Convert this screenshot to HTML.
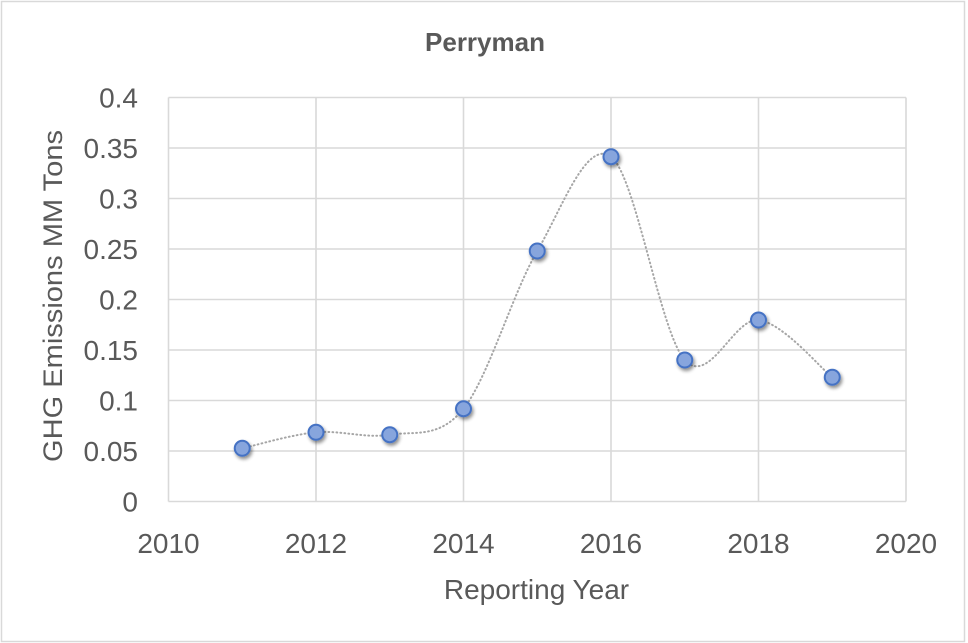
<!DOCTYPE html>
<html>
<head>
<meta charset="utf-8">
<style>
  html,body{margin:0;padding:0;background:#fff;}
  svg{display:block;}
  text{font-family:"Liberation Sans",Arial,sans-serif;fill:#595959;}
</style>
</head>
<body>
<svg width="968" height="643" viewBox="0 0 968 643" xmlns="http://www.w3.org/2000/svg">
  <defs>
    <filter id="sh" x="-50%" y="-50%" width="200%" height="200%">
      <feGaussianBlur in="SourceAlpha" stdDeviation="1.8"/>
      <feOffset dx="1.5" dy="2.5" result="b"/>
      <feComponentTransfer><feFuncA type="linear" slope="0.45"/></feComponentTransfer>
      <feMerge><feMergeNode/><feMergeNode in="SourceGraphic"/></feMerge>
    </filter>
  </defs>
  <rect x="0" y="0" width="968" height="643" fill="#fff"/>
  <rect x="1.5" y="1.5" width="963" height="640" fill="none" stroke="#D9D9D9" stroke-width="1.5"/>

  <!-- grid -->
  <g stroke="#D9D9D9" stroke-width="1.6">
    <line x1="168.5" y1="97.5" x2="906" y2="97.5"/>
    <line x1="168.5" y1="148" x2="906" y2="148"/>
    <line x1="168.5" y1="198.5" x2="906" y2="198.5"/>
    <line x1="168.5" y1="249" x2="906" y2="249"/>
    <line x1="168.5" y1="299.5" x2="906" y2="299.5"/>
    <line x1="168.5" y1="350" x2="906" y2="350"/>
    <line x1="168.5" y1="400.5" x2="906" y2="400.5"/>
    <line x1="168.5" y1="451" x2="906" y2="451"/>
    <line x1="168.5" y1="501.5" x2="906" y2="501.5"/>
    <line x1="168.5" y1="97.5" x2="168.5" y2="501.5"/>
    <line x1="316" y1="97.5" x2="316" y2="501.5"/>
    <line x1="463.5" y1="97.5" x2="463.5" y2="501.5"/>
    <line x1="611" y1="97.5" x2="611" y2="501.5"/>
    <line x1="758.5" y1="97.5" x2="758.5" y2="501.5"/>
    <line x1="906" y1="97.5" x2="906" y2="501.5"/>
  </g>

  <!-- title -->
  <text x="485" y="51" font-size="26" font-weight="bold" text-anchor="middle">Perryman</text>

  <!-- y tick labels -->
  <g font-size="28" text-anchor="end">
    <text x="138" y="107.5">0.4</text>
    <text x="138" y="158">0.35</text>
    <text x="138" y="208.5">0.3</text>
    <text x="138" y="259">0.25</text>
    <text x="138" y="309.5">0.2</text>
    <text x="138" y="360">0.15</text>
    <text x="138" y="410.5">0.1</text>
    <text x="138" y="461">0.05</text>
    <text x="138" y="511.5">0</text>
  </g>

  <!-- x tick labels -->
  <g font-size="28" text-anchor="middle">
    <text x="168.5" y="553">2010</text>
    <text x="316" y="553">2012</text>
    <text x="463.5" y="553">2014</text>
    <text x="611" y="553">2016</text>
    <text x="758.5" y="553">2018</text>
    <text x="906" y="553">2020</text>
  </g>

  <!-- axis titles -->
  <text x="536.5" y="599" font-size="28" text-anchor="middle">Reporting Year</text>
  <text transform="translate(62,296) rotate(-90)" font-size="27" text-anchor="middle" textLength="332" lengthAdjust="spacingAndGlyphs">GHG Emissions MM Tons</text>

  <!-- smoothed dotted line -->
  <path d="M242.25,448.3 C254.54,445.63 291.42,434.57 316,432.3 C340.58,430.03 365.17,438.63 389.75,434.7 C414.33,430.77 438.92,439.32 463.5,408.7 C488.08,378.08 512.67,293 537.25,251 C561.83,209 586.42,138.53 611,156.7 C635.58,174.87 660.17,332.78 684.75,360 C709.33,387.22 733.92,317.12 758.5,320 C783.08,322.88 819.96,367.75 832.25,377.3"
        fill="none" stroke="#A6A6A6" stroke-width="2" stroke-dasharray="0.8 3.2" stroke-linecap="round"/>

  <!-- markers -->
  <g fill="#87A5DD" stroke="#4472C4" stroke-width="2" filter="url(#sh)">
    <circle cx="242.25" cy="448.3" r="7.5"/>
    <circle cx="316" cy="432.3" r="7.5"/>
    <circle cx="389.75" cy="434.7" r="7.5"/>
    <circle cx="463.5" cy="408.7" r="7.5"/>
    <circle cx="537.25" cy="251" r="7.5"/>
    <circle cx="611" cy="156.7" r="7.5"/>
    <circle cx="684.75" cy="360" r="7.5"/>
    <circle cx="758.5" cy="320" r="7.5"/>
    <circle cx="832.25" cy="377.3" r="7.5"/>
  </g>
</svg>
</body>
</html>
